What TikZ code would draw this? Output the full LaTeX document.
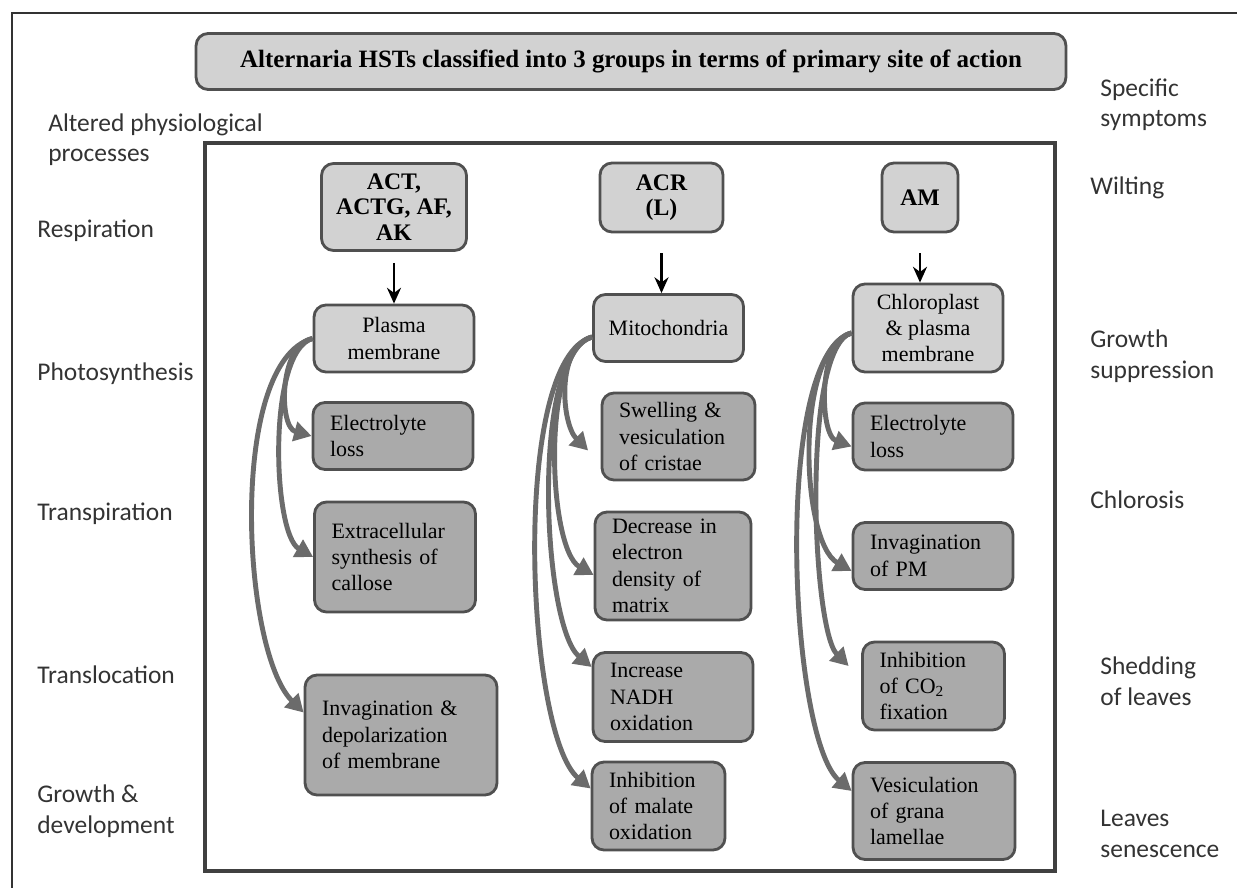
\documentclass[tikz,border=0pt]{standalone}
\usepackage{fontspec}
\setmainfont{Liberation Serif}
\newfontfamily\lblfont{Carlito}
\usetikzlibrary{arrows.meta}
\definecolor{boxline}{HTML}{505050}
\definecolor{boxlight}{HTML}{D2D2D2}
\definecolor{boxdark}{HTML}{AAAAAA}
\definecolor{curvegray}{HTML}{6B6B6B}
\definecolor{lbltext}{HTML}{333333}
\tikzset{
  hstbox/.style={draw=boxline, line width=1.6pt, fill=boxlight, rounded corners=0.24cm,
    align=center, inner sep=0pt, font=\fontsize{13.5}{14.5}\selectfont\bfseries},
  sitebox/.style={draw=boxline, line width=1.6pt, fill=boxlight, rounded corners=0.24cm,
    align=center, inner sep=0pt, font=\fontsize{12.5}{15}\selectfont},
  effbox/.style={draw=boxline, line width=1.6pt, fill=boxdark, rounded corners=0.24cm,
    align=left, inner xsep=0.34cm, inner ysep=0pt, font=\fontsize{12.5}{15}\selectfont},
  lbl/.style={anchor=base west, align=left, inner sep=0pt, text=lbltext,
    font=\lblfont\fontsize{14.5}{17.6}\selectfont},
  downarr/.style={-{Stealth[length=9pt,width=8pt]}, line width=1.3pt, black},
  effarr/.style={draw=curvegray, line width=2.8pt, -{Triangle[length=10pt,width=11pt]}},
}

\begin{document}
\begin{tikzpicture}[x=0.02cm, y=-0.02cm]
	\useasboundingbox (0,0) rectangle (1237,888);

	% frames
	\draw[line width=1.6pt, draw=black!80] (1237,13) -- (12,13) -- (12,888);
	\draw[line width=1.8pt, draw=black!75] (205,143) rectangle (1055,871);

	\node[hstbox, minimum width=17.4cm, minimum height=1.12cm,
		font=\fontsize{14.2}{15}\selectfont\bfseries] (title) at (631,61.5)
		{Alternaria HSTs classified into 3 groups in terms of primary site of action};

	% side labels (base = last line)
	\node[lbl] (altered) at (48,162) {Altered physiological\\processes};
	\node[lbl] (resp) at (37,238) {Respiration};
	\node[lbl] (photo) at (37,380) {Photosynthesis};
	\node[lbl] (transp) at (37,520) {Transpiration};
	\node[lbl] (transl) at (37,683) {Translocation};
	\node[lbl] (growth) at (37,833) {Growth \&\\development};

	\node[lbl] (specific) at (1100,127) {Specific\\symptoms};
	\node[lbl] (wilt) at (1090,195) {Wilting};
	\node[lbl] (suppr) at (1090,378) {Growth\\suppression};
	\node[lbl] (chlor) at (1090,508) {Chlorosis};
	\node[lbl] (shed) at (1100,705) {Shedding\\of leaves};
	\node[lbl] (senes) at (1100,857) {Leaves\\senescence};

	% group 1
	\node[hstbox, minimum width=2.9cm, minimum height=1.74cm] (act) at (394,207) {ACT,\\ACTG, AF,\\AK};
	\node[sitebox, minimum width=3.2cm, minimum height=1.34cm] (plasma) at (394,338.5) {Plasma\\membrane};
	\node[effbox, text width=2.52cm, minimum height=1.34cm] (elecA) at (393,436) {Electrolyte\\loss};
	\node[effbox, text width=2.54cm, minimum height=2.2cm] (callose) at (395,557) {Extracellular\\synthesis of\\callose};
	\node[effbox, text width=3.16cm, minimum height=2.4cm] (invag) at (401,735) {Invagination \&\\depolarization\\of membrane};

	% group 2
	\node[hstbox, minimum width=2.46cm, minimum height=1.38cm] (acr) at (661.5,197.5) {ACR\\(L)};
	\node[sitebox, minimum width=3.0cm, minimum height=1.34cm] (mito) at (668.5,328) {Mitochondria};
	\node[effbox, text width=2.38cm, minimum height=1.74cm] (swell) at (678.5,436.5) {Swelling \&\\vesiculation\\of cristae};
	\node[effbox, text width=2.44cm, minimum height=2.16cm] (decr) at (673,566) {Decrease in\\electron\\density of\\matrix};
	\node[effbox, text width=2.52cm, minimum height=1.78cm] (nadh) at (673,697) {Increase\\NADH\\oxidation};
	\node[effbox, text width=1.98cm, minimum height=1.76cm] (malate) at (658.5,806) {Inhibition\\of malate\\oxidation};

	% group 3
	\node[hstbox, minimum width=1.52cm, minimum height=1.38cm] (am) at (920,197.5) {AM};
	\node[sitebox, minimum width=3.0cm, minimum height=1.76cm] (chloro) at (928,328) {Chloroplast\\\& plasma\\membrane};
	\node[effbox, text width=2.52cm, minimum height=1.34cm] (elecB) at (933,436.5) {Electrolyte\\loss};
	\node[effbox, text width=2.52cm, minimum height=1.34cm] (invpm) at (933,556) {Invagination\\of PM};
	\node[effbox, text width=2.16cm, minimum height=1.76cm] (cofix) at (933.5,686) {Inhibition\\of CO\textsubscript{2}\\fixation};
	\node[effbox, text width=2.56cm, minimum height=1.94cm] (grana) at (934,811) {Vesiculation\\of grana\\lamellae};

	% toxin -> primary site
	\draw[downarr, shorten <=0.22cm] (act.south) -- (act.south |- plasma.north);
	\draw[downarr, shorten <=0.4cm] (acr.south) -- (acr.south |- mito.north);
	\draw[downarr, shorten <=0.4cm] (am.south) -- (am.south |- chloro.north);

	% primary site -> effects
	\draw[effarr] (plasma.west) to[out=190, in=165, looseness=0.9] (elecA.west);
	\draw[effarr] (plasma.west) to[out=195, in=150, looseness=0.55] (callose.west);
	\draw[effarr] (plasma.west) to[out=195, in=135, looseness=0.6] ([yshift=0.45cm]invag.west);

	\draw[effarr] ([yshift=-0.18cm]mito.west) to[out=195, in=135, looseness=0.85] ([xshift=-0.25cm,yshift=-0.28cm]swell.west);
	\draw[effarr] ([yshift=-0.18cm]mito.west) to[out=195, in=150, looseness=0.57] ([yshift=-0.18cm]decr.west);
	\draw[effarr] ([yshift=-0.18cm]mito.west) to[out=195, in=140, looseness=0.5] ([yshift=0.6cm]nadh.west);
	\draw[effarr] ([yshift=-0.18cm]mito.west) to[out=195, in=140, looseness=0.48] ([yshift=0.35cm]malate.west);

	\draw[effarr] ([yshift=-0.1cm]chloro.west) to[out=190, in=160, looseness=0.78] ([yshift=-0.2cm]elecB.west);
	\draw[effarr] ([yshift=-0.1cm]chloro.west) to[out=195, in=150, looseness=0.64] ([yshift=-0.3cm]invpm.west);
	\draw[effarr] ([yshift=-0.1cm]chloro.west) to[out=195, in=135, looseness=0.4] ([xshift=-0.25cm,yshift=0.4cm]cofix.west);
	\draw[effarr] ([yshift=-0.1cm]chloro.west) to[out=195, in=140, looseness=0.46] ([yshift=0.4cm]grana.west);
\end{tikzpicture}
\end{document}
